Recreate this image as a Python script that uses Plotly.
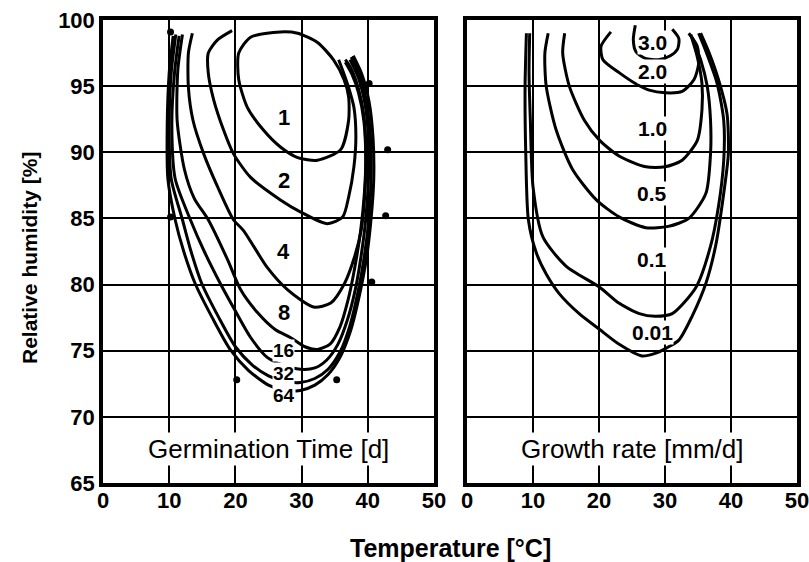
import plotly.graph_objects as go

# ---------------- Left panel: germination time isopleths (days) ----------------
G1_T = [26.8, 22.3, 20.5, 20.5, 21.8, 24.2, 26.8, 29.4, 32.4, 35.9, 37.1, 37.1, 36.4, 34.8, 32.4, 29.4, 26.8]
G1_RH = [99.1, 98.7, 97.5, 95.5, 93.4, 91.7, 90.4, 89.6, 89.4, 90.2, 92.4, 94.2, 95.5, 97.0, 98.3, 99.0, 99.1]

G2_T = [19.5, 17.3, 15.9, 15.9, 16.7, 18.2, 19.7, 22.3, 26.8, 29.8, 33.9, 36.2, 37.1, 37.9, 38.2, 37.9, 37.1, 36.2, 35.6]
G2_RH = [99.2, 98.5, 97.5, 96.0, 94.0, 91.7, 89.9, 88.1, 86.4, 85.5, 84.6, 85.1, 86.6, 88.9, 91.2, 93.4, 94.9, 96.2, 97.0]

G4_T = [13.5, 12.9, 12.9, 13.6, 15.2, 17.3, 19.7, 21.2, 24.8, 27.9, 31.8, 34.4, 36.5, 38.0, 39.0, 39.5, 39.7, 39.4, 38.6, 37.6, 36.6]
G4_RH = [99.0, 97.5, 94.9, 92.4, 89.9, 87.4, 84.9, 84.1, 81.3, 79.6, 78.3, 78.6, 80.1, 82.1, 84.1, 86.5, 89.4, 92.4, 94.5, 95.9, 96.8]

G8_T = [12.0, 11.3, 11.2, 12.3, 13.8, 15.9, 18.8, 20.8, 23.3, 26.0, 28.3, 30.5, 32.4, 34.3, 35.8, 37.0, 38.0, 38.9, 39.5, 39.7, 39.4, 38.6, 37.4, 36.6]
G8_RH = [98.9, 96.2, 92.4, 88.7, 86.5, 84.9, 81.9, 79.6, 77.9, 76.6, 76.0, 75.3, 75.1, 75.5, 76.8, 78.8, 81.2, 84.0, 87.0, 90.0, 92.8, 94.8, 96.4, 97.0]

G16_T = [11.5, 10.8, 10.4, 10.9, 13.2, 15.3, 17.7, 20.0, 22.3, 24.8, 27.3, 29.8, 32.0, 33.8, 35.5, 36.9, 38.1, 39.0, 39.7, 40.1, 40.1, 39.6, 38.6, 37.3]
G16_RH = [98.8, 96.0, 92.0, 88.0, 84.9, 82.5, 80.1, 78.0, 76.0, 74.5, 73.9, 73.6, 73.7, 74.3, 75.5, 77.3, 79.6, 82.2, 85.0, 88.0, 91.0, 93.6, 95.6, 97.0]

G32_T = [11.0, 10.3, 10.0, 10.3, 12.0, 13.3, 14.9, 17.5, 20.0, 22.6, 25.0, 27.3, 29.8, 32.0, 34.0, 35.8, 37.3, 38.5, 39.5, 40.2, 40.5, 40.4, 39.8, 38.8, 37.5]
G32_RH = [98.9, 96.0, 92.0, 88.0, 84.9, 82.5, 80.1, 77.5, 75.3, 73.9, 73.1, 72.7, 72.6, 72.9, 73.6, 74.9, 76.9, 79.4, 82.2, 85.2, 88.2, 91.2, 93.8, 95.8, 97.2]

G64_T = [10.6, 10.0, 9.7, 9.8, 10.9, 12.2, 13.9, 16.5, 19.2, 22.0, 25.0, 27.3, 29.8, 32.0, 34.0, 35.8, 37.4, 38.7, 39.8, 40.5, 40.9, 40.8, 40.2, 39.1, 37.8]
G64_RH = [98.8, 96.0, 92.0, 88.0, 84.9, 82.5, 80.1, 77.5, 75.1, 73.5, 72.4, 72.0, 72.0, 72.4, 73.2, 74.5, 76.5, 79.1, 82.0, 85.0, 88.0, 91.0, 93.8, 95.9, 97.3]

DOT_T = [10.2, 10.2, 40.2, 43.0, 42.7, 40.6, 20.2, 35.3]
DOT_RH = [99.1, 85.1, 95.2, 90.2, 85.2, 80.2, 72.8, 72.8]

G_LABELS = ["1", "2", "4", "8", "16", "32", "64"]
G_LAB_T = [27.3, 27.3, 27.3, 27.3, 27.3, 27.3, 27.3]
G_LAB_RH = [92.6, 87.9, 82.5, 77.9, 75.0, 73.3, 71.6]

# ---------------- Right panel: growth rate isopleths (mm/d) ----------------
R30_T = [25.5, 25.2, 25.6, 27.0, 29.0, 30.8, 31.9, 32.1, 31.1]
R30_RH = [99.6, 98.5, 97.6, 97.1, 97.0, 97.3, 97.8, 98.6, 99.3]

R20_T = [21.8, 20.3, 20.6, 23.1, 25.5, 27.6, 30.0, 32.6, 34.4, 35.1, 34.9, 33.6]
R20_RH = [99.1, 98.0, 97.0, 96.0, 95.2, 94.7, 94.5, 94.6, 95.5, 96.7, 98.0, 99.0]

R10_T = [14.8, 14.5, 15.5, 17.8, 20.1, 23.1, 27.1, 30.0, 32.6, 34.9, 35.6, 35.6, 34.9, 33.9]
R10_RH = [99.0, 97.5, 95.0, 92.4, 90.9, 89.7, 88.9, 88.9, 89.4, 90.9, 93.2, 95.2, 97.2, 98.9]

R05_T = [12.3, 11.8, 12.0, 13.5, 16.0, 19.6, 23.1, 27.1, 30.5, 33.6, 36.2, 36.9, 36.9, 36.4, 35.4, 34.1]
R05_RH = [99.0, 97.5, 95.0, 91.7, 88.7, 86.4, 85.1, 84.3, 84.4, 85.0, 86.9, 89.9, 92.4, 95.0, 97.0, 98.7]

R01_T = [9.5, 9.4, 9.6, 10.0, 11.5, 15.0, 20.1, 23.0, 26.1, 28.5, 31.1, 34.7, 36.9, 38.1, 38.9, 38.9, 37.9, 36.3, 35.1]
R01_RH = [99.0, 96.0, 92.4, 87.4, 83.6, 81.4, 79.8, 78.6, 77.8, 77.6, 77.8, 79.8, 82.9, 85.9, 89.4, 92.4, 95.2, 97.5, 99.0]

R001_T = [9.0, 8.8, 8.9, 9.3, 10.5, 12.0, 14.0, 17.0, 20.1, 23.0, 26.5, 28.5, 30.2, 32.1, 34.1, 36.2, 37.7, 38.9, 39.6, 39.4, 38.1, 36.7, 35.4]
R001_RH = [99.0, 95.0, 90.0, 84.9, 82.4, 80.8, 79.3, 77.8, 76.6, 75.5, 74.6, 74.8, 75.2, 75.8, 77.6, 80.1, 83.0, 86.9, 89.9, 92.9, 95.5, 97.5, 99.0]

R_LABELS = ["3.0", "2.0", "1.0", "0.5", "0.1", "0.01"]
R_LAB_T = [28.1, 28.1, 28.1, 28.1, 28.1, 28.1]
R_LAB_RH = [98.3, 96.1, 91.8, 86.9, 81.9, 76.4]

X_TICKS = [0, 10, 20, 30, 40, 50]
Y_TICKS = [65, 70, 75, 80, 85, 90, 95, 100]

FONT = "Liberation Sans, Arial, sans-serif"
LW = 3.0

fig = go.Figure()

left = [(G1_T, G1_RH), (G2_T, G2_RH), (G4_T, G4_RH), (G8_T, G8_RH),
        (G16_T, G16_RH), (G32_T, G32_RH), (G64_T, G64_RH)]
for t, rh in left:
    fig.add_trace(go.Scatter(x=t, y=rh, mode="lines", xaxis="x", yaxis="y",
                             line=dict(color="black", width=LW, shape="spline", smoothing=0.7),
                             hoverinfo="skip", showlegend=False))
fig.add_trace(go.Scatter(x=DOT_T, y=DOT_RH, mode="markers", xaxis="x", yaxis="y",
                         marker=dict(color="black", size=7), showlegend=False, hoverinfo="skip"))

right = [(R30_T, R30_RH), (R20_T, R20_RH), (R10_T, R10_RH), (R05_T, R05_RH),
         (R01_T, R01_RH), (R001_T, R001_RH)]
for t, rh in right:
    fig.add_trace(go.Scatter(x=t, y=rh, mode="lines", xaxis="x2", yaxis="y2",
                             line=dict(color="black", width=LW, shape="spline", smoothing=0.7),
                             hoverinfo="skip", showlegend=False))

annotations = []
for lab, t, rh in zip(G_LABELS, G_LAB_T, G_LAB_RH):
    on_line = lab in ("16", "32", "64")
    annotations.append(dict(x=t, y=rh, xref="x", yref="y", text=lab, showarrow=False,
                            font=dict(family=FONT, size=19 if on_line else 22, color="black", weight="bold"),
                            bgcolor="white" if on_line else "rgba(0,0,0,0)",
                            borderpad=0))
for lab, t, rh in zip(R_LABELS, R_LAB_T, R_LAB_RH):
    annotations.append(dict(x=t, y=rh, xref="x2", yref="y2", text=lab, showarrow=False,
                            font=dict(family=FONT, size=21, color="black", weight="bold"),
                            bgcolor="white", borderpad=0))

annotations.append(dict(x=25, y=67.6, xref="x", yref="y", text="Germination Time [d]",
                        showarrow=False, bgcolor="white", borderpad=1,
                        font=dict(family=FONT, size=26, color="black")))
annotations.append(dict(x=25, y=67.6, xref="x2", yref="y2", text="Growth rate [mm/d]",
                        showarrow=False, bgcolor="white", borderpad=1,
                        font=dict(family=FONT, size=26, color="black")))
annotations.append(dict(x=450 / 809, y=1 - 548 / 562, xref="paper", yref="paper",
                        xanchor="center", yanchor="middle",
                        text="Temperature [°C]", showarrow=False,
                        font=dict(family=FONT, size=25, color="black", weight="bold")))
annotations.append(dict(x=29 / 809, y=1 - 258 / 562, xref="paper", yref="paper",
                        xanchor="center", yanchor="middle",
                        text="Relative humidity [%]", showarrow=False, textangle=-90,
                        font=dict(family=FONT, size=21, color="black", weight="bold")))

axis_common = dict(range=[0, 50], tickvals=X_TICKS, ticks="", showgrid=True,
                   gridcolor="black", gridwidth=1.5, showline=True, linecolor="black",
                   linewidth=3.5, mirror=True, zeroline=False, automargin=False,
                   ticklabeloverflow="allow", ticklabelstandoff=-5,
                   tickfont=dict(family=FONT, size=22, color="black", weight="bold"))
yaxis_common = dict(range=[65, 100], tickvals=Y_TICKS, ticks="", showgrid=True,
                    gridcolor="black", gridwidth=1.5, showline=True, linecolor="black",
                    linewidth=3.5, mirror=True, zeroline=False, automargin=False,
                    ticklabeloverflow="allow",
                    domain=[1 - 483 / 562, 1 - 20 / 562],
                    tickfont=dict(family=FONT, size=22, color="black", weight="bold"))

fig.update_layout(
    width=809, height=562,
    margin=dict(l=0, r=0, t=0, b=0, autoexpand=False),
    paper_bgcolor="white", plot_bgcolor="white",
    xaxis=dict(axis_common, domain=[103 / 809, 434 / 809], anchor="y"),
    xaxis2=dict(axis_common, domain=[467 / 809, 797 / 809], anchor="y2"),
    yaxis=dict(yaxis_common, anchor="x"),
    yaxis2=dict(yaxis_common, anchor="x2", showticklabels=False),
    annotations=annotations,
    showlegend=False,
)

fig.write_html("out.html", config={"displayModeBar": False},
               post_script="document.body.style.margin='0';")
